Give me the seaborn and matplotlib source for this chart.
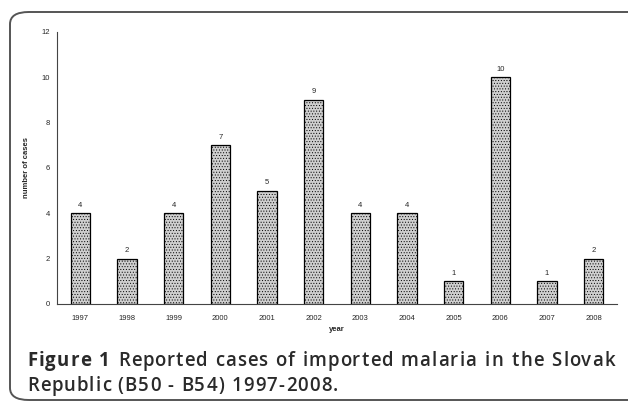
import numpy as np
import matplotlib
matplotlib.use("Agg")
import matplotlib.pyplot as plt
import pandas as pd
import seaborn as sns
from matplotlib.patches import FancyBboxPatch

years = ["1997", "1998", "1999", "2000", "2001", "2002",
         "2003", "2004", "2005", "2006", "2007", "2008"]
cases = [4, 2, 4, 7, 5, 9, 4, 4, 1, 10, 1, 2]
y_ticks = [0, 2, 4, 6, 8, 10, 12]

caption_bold = "Figure 1 "
caption_line1 = "Reported cases of imported malaria in the Slovak"
caption_line2 = "Republic (B50 - B54) 1997-2008."

df = pd.DataFrame({"year": years, "cases": cases})

sns.set_style("white")
plt.rcParams["font.family"] = ["Liberation Sans", "DejaVu Sans"]
plt.rcParams["hatch.color"] = "#8f8f8f"
plt.rcParams["hatch.linewidth"] = 0.4

W, H = 628, 404
fig = plt.figure(figsize=(W / 100, H / 100), dpi=100)

# rounded frame around figure + caption
frame = FancyBboxPatch((10 / W, 4 / H), 640 / W, 388 / H,
                       boxstyle="round,pad=0,rounding_size=0.03",
                       transform=fig.transFigure, fill=False,
                       edgecolor="#555555", linewidth=1.4, clip_on=False)
fig.patches.append(frame)

ax = fig.add_axes([57 / W, 1 - 304 / H, 560 / W, 272 / H])
sns.barplot(data=df, x="year", y="cases", ax=ax, color="#cfcfcf",
            width=0.41, edgecolor="black", linewidth=0.9, saturation=1)
for p in ax.patches:
    p.set_hatch("......")

for i, v in enumerate(cases):
    ax.text(i, v + 0.2, str(v), ha="center", va="bottom", fontsize=5.5)

ax.set_ylim(0, 12)
ax.set_xlim(-0.5, len(years) - 0.5)
ax.set_yticks(y_ticks)
ax.set_yticklabels([str(t) for t in y_ticks], fontsize=5.5)
ax.tick_params(axis="x", which="major", length=0, labelsize=5.5, pad=8)
ax.set_xticks(np.arange(-0.5, len(years), 1), minor=True)
ax.tick_params(axis="x", which="minor", length=3, width=0.8, direction="out",
               color="#444444")
ax.tick_params(axis="y", length=3, width=0.8, direction="out", color="#444444", pad=2)

for side in ["top", "right"]:
    ax.spines[side].set_visible(False)
for side in ["left", "bottom"]:
    ax.spines[side].set_color("#444444")
    ax.spines[side].set_linewidth(0.8)

ax.set_xlabel("year", fontsize=5.5, fontweight="bold", labelpad=3)
ax.set_ylabel("number of cases", fontsize=5.5, fontweight="bold", labelpad=8)

# caption with letter spacing (the reference uses tracked, justified text)
cap_font = dict(fontsize=13.4, color="#2a2a2a", family=["Open Sans", "DejaVu Sans"],
                va="center", ha="left")
renderer = fig.canvas.get_renderer()
_cache = {}


def text_w(s, weight):
    t = fig.text(0, 0, s, fontweight=weight, **cap_font)
    w = t.get_window_extent(renderer).width
    t.remove()
    return w


def char_width(ch, weight):
    # advance width, measured between two x's
    key = (ch, weight)
    if key not in _cache:
        _cache[key] = text_w("x" + ch + "x", weight) - text_w("xx", weight)
    return _cache[key]


def draw_tracked(chars, y, x0, x1=None, tracking=None):
    base = sum(char_width(c, w) for c, w in chars)
    n_spaces = sum(1 for c, _ in chars if c == " ")
    extra_space = 0.0
    if tracking is None:
        tracking = (x1 - x0 - base) / (len(chars) - 1)
    elif x1 is not None:
        extra_space = (x1 - x0 - base - tracking * (len(chars) - 1)) / max(n_spaces, 1)
    x = x0
    for c, w in chars:
        if c != " ":
            fig.text(x / W, 1 - y / H, c, fontweight=w, **cap_font)
        x += char_width(c, w) + tracking + (extra_space if c == " " else 0)
    return tracking


line2 = [(c, "semibold") for c in caption_line2]
trk = draw_tracked(line2, 386, 27, 338)
line1 = ([(c, "bold") for c in caption_bold]
         + [(c, "semibold") for c in caption_line1])
draw_tracked(line1, 361, 27, 615, tracking=trk)

fig.savefig("out.png", dpi=100)
